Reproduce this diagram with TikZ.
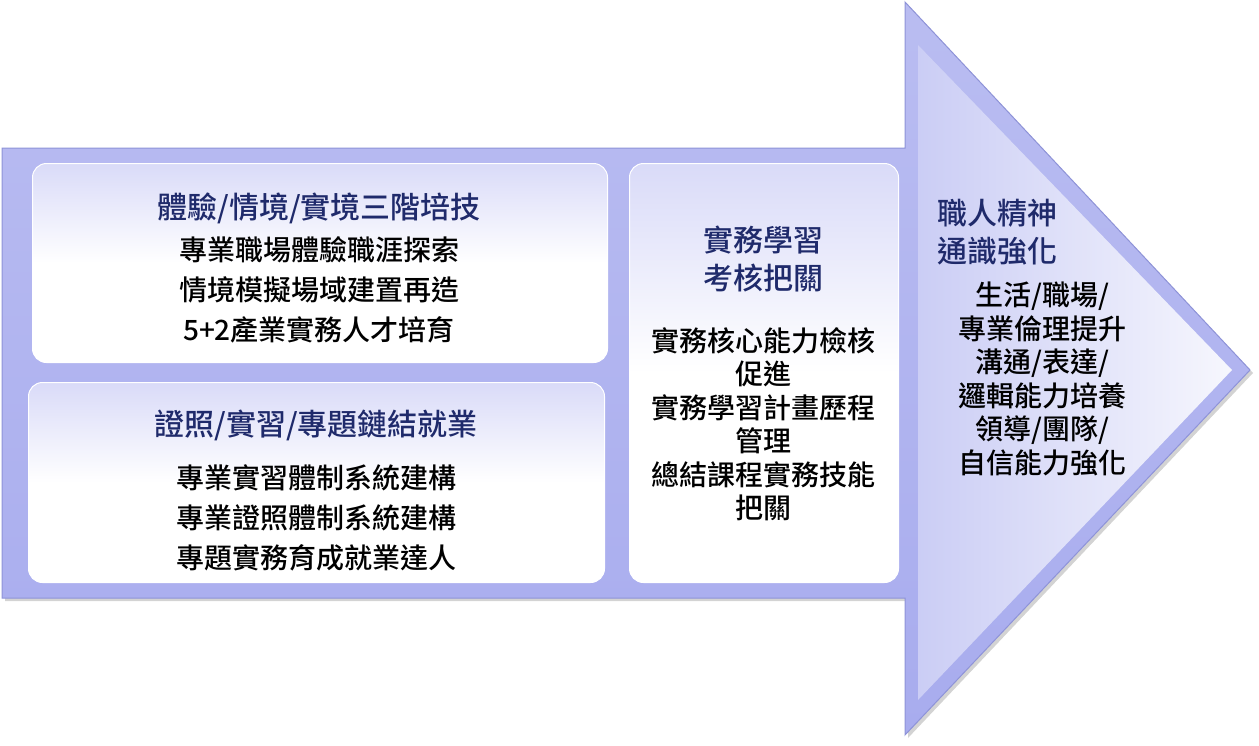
\documentclass[tikz,border=0pt]{standalone}
\usepackage{fontspec}
\setmainfont{Noto Sans CJK TC}[BoldFont={* Medium}]
\usetikzlibrary{shadows}
\definecolor{arrowc}{HTML}{A8ACEE}
\definecolor{arrowd}{HTML}{8E93D8}
\definecolor{boxtop}{HTML}{C9CBF5}
\definecolor{titlec}{HTML}{1F2A6B}
\tikzset{
  panel/.style={rounded corners=14pt, draw=white, line width=1pt, top color=boxtop!70, bottom color=white, middle color=white},
  ttl/.style={text=titlec, font=\bfseries\fontsize{30}{36}\selectfont, align=center},
  bdy/.style={text=black, font=\bfseries\fontsize{28}{40}\selectfont, align=center},
  bdys/.style={text=black, font=\bfseries\fontsize{28}{33.5}\selectfont, align=center}
}
\begin{document}
\begin{tikzpicture}[x=1pt,y=-1pt]
\useasboundingbox (0,0) rectangle (1259,745);
\path[draw=arrowd, line width=1pt, top color=arrowc!80, bottom color=arrowc, drop shadow={opacity=0.35,shadow xshift=3pt,shadow yshift=-3pt}]
  (2,148) -- (905,148) -- (905,2) -- (1250,370) -- (905,735) -- (905,598) -- (2,598) -- cycle;
\path[left color=arrowc!60, right color=white!90!arrowc] (918,45) -- (1232,370) -- (918,700) -- cycle;
\node[panel, minimum width=575pt, minimum height=199pt, anchor=north west] (b1) at (32,163) {};
\node[panel, minimum width=576pt, minimum height=200pt, anchor=north west] (b2) at (28,382) {};
\node[panel, minimum width=269pt, minimum height=419pt, anchor=north west] (b3) at (629,163) {};
\node[ttl] (t1) at (319,208) {體驗/情境/實境三階培技};
\node[bdy] (d1) at (319,290) {專業職場體驗職涯探索\\情境模擬場域建置再造\\5+2產業實務人才培育};
\node[ttl] (t2) at (316,425) {證照/實習/專題鏈結就業};
\node[bdy] (d2) at (316,518) {專業實習體制系統建構\\專業證照體制系統建構\\專題實務育成就業達人};
\node[ttl, font=\bfseries\fontsize{30}{38}\selectfont] (t3) at (763,259) {實務學習\\考核把關};
\node[bdys] (d3) at (763,424) {實務核心能力檢核\\促進\\實務學習計畫歷程\\管理\\總結課程實務技能\\把關};
\node[ttl, align=left, anchor=west, font=\bfseries\fontsize{30}{38}\selectfont] (t4) at (934,232) {職人精神\\通識強化};
\node[bdys] (d4) at (1042,379) {生活/職場/\\專業倫理提升\\溝通/表達/\\邏輯能力培養\\領導/團隊/\\自信能力強化};
\end{tikzpicture}
\end{document}
